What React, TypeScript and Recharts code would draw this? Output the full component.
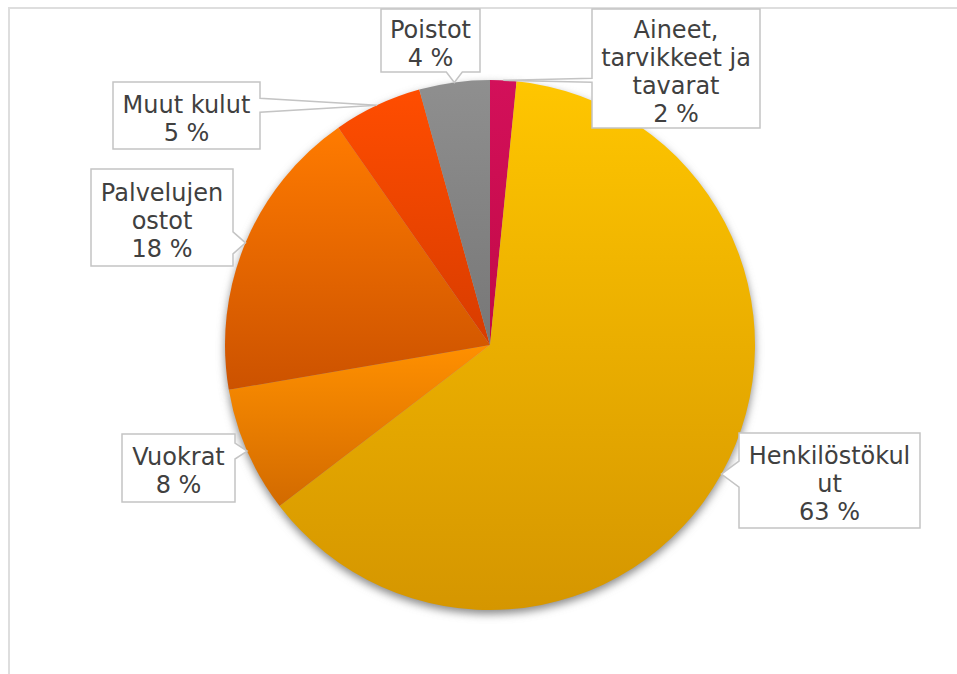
import { PieChart, Pie, Cell } from 'recharts';

// Cost structure shares (percent), clockwise from 12 o'clock
const CATEGORIES = [
  'Aineet, tarvikkeet ja tavarat',
  'Henkilöstökulut',
  'Vuokrat',
  'Palvelujen ostot',
  'Muut kulut',
  'Poistot',
];
const SHARES = [1.6, 63.0, 7.7, 18.0, 5.4, 4.3];

// How each category name wraps inside its callout box
const LABEL_LINES = [
  ['Aineet,', 'tarvikkeet ja', 'tavarat'],
  ['Henkilöstökul', 'ut'],
  ['Vuokrat'],
  ['Palvelujen', 'ostot'],
  ['Muut kulut'],
  ['Poistot'],
];

// Slice gradients, top -> bottom
const GRADIENTS = [
  ['#d3105a', '#c20a46'],
  ['#ffc600', '#d59600'],
  ['#ff9000', '#d26a00'],
  ['#ff7b00', '#cc5200'],
  ['#ff4d00', '#d83c00'],
  ['#8f8f8f', '#777777'],
];

// Callout box placement (layout only)
const BOXES = [
  { x: 592, y: 9, w: 168, h: 119, notch: 2 },
  { x: 739, y: 433, w: 181, h: 95, notch: 13 },
  { x: 122, y: 434, w: 113, h: 68, notch: 8 },
  { x: 91, y: 169, w: 142, h: 97, notch: 11 },
  { x: 113, y: 82, w: 147, h: 67, notch: 7 },
  { x: 381, y: 9, w: 99, h: 63, notch: 8 },
];

const RAD = Math.PI / 180;
const FONT = '"DejaVu Sans", Verdana, sans-serif';

const data = CATEGORIES.map((name, i) => ({ name, value: SHARES[i] }));

const clamp = (v: number, lo: number, hi: number) => Math.max(lo, Math.min(hi, v));

function renderCallout(props: any) {
  const { cx, cy, midAngle, outerRadius, index, percent } = props;
  const tx = cx + outerRadius * Math.cos(-midAngle * RAD);
  const ty = cy + outerRadius * Math.sin(-midAngle * RAD);
  const b = BOXES[index];
  const L = b.x, R = b.x + b.w, T = b.y, B = b.y + b.h;
  const h = b.notch;
  let d: string;
  if (ty > B) {
    const c = clamp(tx, L + h, R - h);
    d = `M${L},${T}H${R}V${B}H${c + h}L${tx},${ty}L${c - h},${B}H${L}Z`;
  } else if (ty < T) {
    const c = clamp(tx, L + h, R - h);
    d = `M${L},${T}H${c - h}L${tx},${ty}L${c + h},${T}H${R}V${B}H${L}Z`;
  } else if (tx > R) {
    const c = clamp(ty, T + h, B - h);
    d = `M${L},${T}H${R}V${c - h}L${tx},${ty}L${R},${c + h}V${B}H${L}Z`;
  } else {
    const c = clamp(ty, T + h, B - h);
    d = `M${L},${T}H${R}V${B}H${L}V${c + h}L${tx},${ty}L${L},${c - h}Z`;
  }
  const lines = [...LABEL_LINES[index], `${Math.round(percent * 100)} %`];
  const lh = 28;
  const y0 = T + b.h / 2 + 3 - ((lines.length - 1) * lh) / 2;
  return (
    <g key={`callout-${index}`}>
      <path d={d} fill="#ffffff" stroke="#c4c4c4" strokeWidth={1.5} strokeLinejoin="miter" />
      <text
        x={L + b.w / 2}
        y={y0}
        textAnchor="middle"
        dominantBaseline="central"
        fontFamily={FONT}
        fontSize={24}
        fill="#404040"
      >
        {lines.map((ln, i) => (
          <tspan key={i} x={L + b.w / 2} y={y0 + i * lh}>
            {ln}
          </tspan>
        ))}
      </text>
    </g>
  );
}

export default function App() {
  return (
    <div style={{ position: 'fixed', left: 0, top: 0, width: 957, height: 674, overflow: 'hidden', background: '#fff' }}>
      <div
        style={{
          position: 'absolute', left: 8, top: 7, width: 1200, height: 1200,
          borderLeft: '2px solid #dedede', borderTop: '2px solid #dedede',
        }}
      />
      <div style={{ position: 'absolute', left: 0, top: 0 }}>
        <PieChart width={957} height={674} margin={{ top: 0, right: 0, bottom: 0, left: 0 }}>
          <defs>
            {GRADIENTS.map(([a, b], i) => (
              <linearGradient key={i} id={`slice-${i}`} x1="0" y1="0" x2="0" y2="1">
                <stop offset="0%" stopColor={a} />
                <stop offset="100%" stopColor={b} />
              </linearGradient>
            ))}
            <filter id="pieBlur" x="-20%" y="-20%" width="140%" height="140%">
              <feGaussianBlur stdDeviation="4" />
            </filter>
          </defs>
          {/* soft drop shadow under the pie */}
          <Pie
            data={data}
            dataKey="value"
            nameKey="name"
            cx={490}
            cy={349}
            outerRadius={265}
            startAngle={90}
            endAngle={-270}
            stroke="none"
            isAnimationActive={false}
            label={false}
            labelLine={false}
          >
            {data.map((_, i) => (
              <Cell key={i} fill="#8a8a8a" style={{ filter: 'url(#pieBlur)' }} />
            ))}
          </Pie>
          <Pie
            data={data}
            dataKey="value"
            nameKey="name"
            cx={490}
            cy={345}
            outerRadius={265}
            startAngle={90}
            endAngle={-270}
            stroke="none"
            isAnimationActive={false}
            labelLine={false}
            label={renderCallout}
          >
            {data.map((_, i) => (
              <Cell key={i} fill={`url(#slice-${i})`} />
            ))}
          </Pie>
        </PieChart>
      </div>
    </div>
  );
}
